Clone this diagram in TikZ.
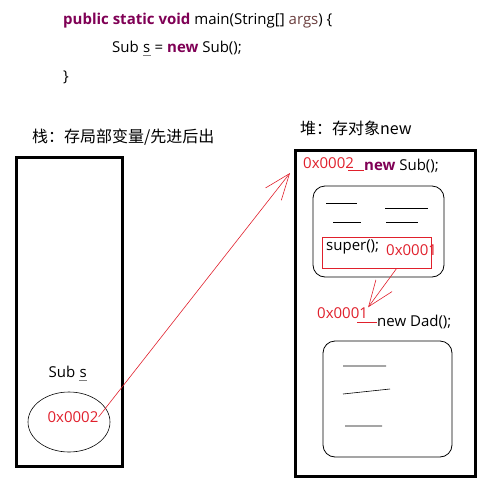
\documentclass[tikz,border=0pt]{standalone}
\usepackage{fontspec}
\setmainfont{Open Sans}
\newfontfamily\cjk{Noto Sans CJK SC}
\usetikzlibrary{arrows.meta,shapes.geometric}
\definecolor{kw}{RGB}{127,0,85}
\definecolor{addr}{RGB}{224,32,44}
\definecolor{argc}{RGB}{106,62,62}
\newcommand{\warnvar}[1]{\tikz[baseline=(v.base)]{\node[inner sep=0pt] (v) {#1};
  \draw[gray,line width=0.5pt] ([yshift=-2.5pt]v.south west) -- ([yshift=-2.5pt]v.south east);}}

\begin{document}
\begin{tikzpicture}[x=1pt,y=-1pt,
  txt/.style={inner sep=0pt,font=\fontsize{15}{17}\selectfont},
  zh/.style={inner sep=0pt,font=\fontsize{16}{18}\cjk},
  adr/.style={txt,text=addr},
  mem/.style={draw,line width=3pt,inner sep=0pt},
  obj/.style={draw,rounded corners=12pt,line width=0.8pt,inner sep=0pt},
  ref/.style={draw=addr,line width=0.6pt,-{Straight Barb[length=26pt,width=20pt]}}]
\useasboundingbox (0,0) rectangle (493,499);
% code
\node[txt,anchor=west] (l1) at (63,21) {\textbf{\color{kw}public static void} main(String[] {\color{argc}args}) \{};
\node[txt,anchor=west] (l2) at (112,48) {Sub \warnvar{s} = \textbf{\color{kw}new} Sub();};
\node[txt,anchor=west] (l3) at (63,77) {\}};
% stack
\node[zh,anchor=west] (stacklbl) at (32,137) {栈：存局部变量/先进后出};
\node[mem,minimum width=106,minimum height=309] (stack) at (69,311.5) {};
\node[txt] (var) at (68,373) {Sub \warnvar{s}};
\node[draw,ellipse,line width=0.6pt,minimum width=82,minimum height=60] (slot) at (69,422) {};
\node[adr] (saddr) at (73,417) {0x0002};
% heap
\node[zh,anchor=west] (heaplbl) at (300,128) {堆：存对象new};
\node[mem,minimum width=180,minimum height=326] (heap) at (385,313) {};
\node[adr,anchor=west] (haddr) at (303,163) {0x0002};
\node[txt,anchor=west] (subnew) at (364,166) {\textbf{\color{kw}new} Sub();};
\draw[addr,line width=0.8pt] (348,170) -- (subnew.west |- 0,170);
\node[obj,minimum width=131,minimum height=91] (subobj) at (378.5,231.5) {};
\draw[line width=0.6pt] (326,203) -- (357,203) (385,208) -- (428,208)
  (333,222) -- (361,222) (386,222) -- (418,222);
\node[draw=addr,line width=0.6pt,minimum width=109,minimum height=31,inner sep=0pt] (superbox) at (376.5,252.5) {};
\node[txt,anchor=west] (super) at (326,247) {super();};
\node[adr,anchor=west] (saddr2) at (386,250) {0x0001};
\node[adr,anchor=west] (daddr) at (317,313) {0x0001};
\node[txt,anchor=west] (dadnew) at (377,322) {new Dad();};
\draw[addr,line width=0.8pt] (357,322) -- (dadnew.west |- 0,322);
\node[obj,minimum width=129,minimum height=116] (dadobj) at (387.5,399) {};
\draw[line width=0.6pt] (343,366) -- (386,366) (343,394) -- (390,389) (345,426) -- (382,426);
% references
\coordinate (htip) at (290,173);
\draw[ref] (saddr.east) -- (htip);
\draw[ref] (superbox.-38) -- (daddr.north east);
\end{tikzpicture}
\end{document}
